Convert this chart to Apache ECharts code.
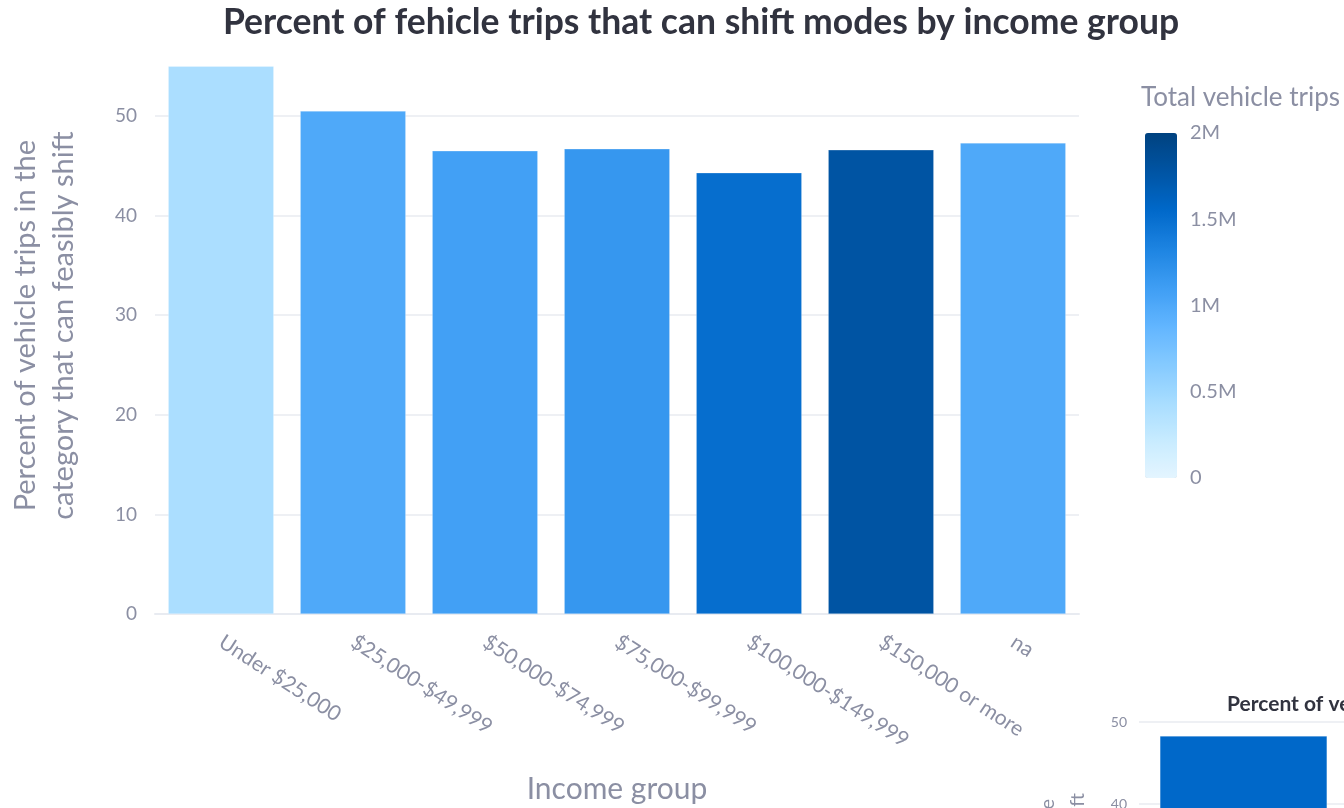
<!DOCTYPE html>
<html>
<head>
<meta charset="utf-8">
<script src="https://cdn.jsdelivr.net/npm/echarts@6/dist/echarts.min.js"></script>
<style>
  html, body { margin: 0; padding: 0; background: #ffffff; }
  #chart { width: 1344px; height: 808px; }
</style>
</head>
<body>
<div id="chart"></div>
<script>
// Income groups and the share of their vehicle trips that could shift modes
const categories = ['Under $25,000', '$25,000-$49,999', '$50,000-$74,999', '$75,000-$99,999', '$100,000-$149,999', '$150,000 or more', 'na'];
const pctShift = [55.0, 50.5, 46.5, 46.7, 44.3, 46.6, 47.3];
// Total vehicle trips per group (drives the bar colour)
const totalTrips = [410000, 1000000, 1080000, 1160000, 1510000, 1780000, 1000000];
// Sequential blue scale for the colour bar
const blueScale = ['#e4f5ff', '#c7ebff', '#a6dcff', '#83c9ff', '#60b4ff', '#3d9df3', '#1c83e1', '#0068c9', '#0054a3', '#004280'];
const colorbarTicks = [0, 500000, 1000000, 1500000, 2000000];

// Next chart on the page (only its top shows)
const nextCategories = ['Work'];
const nextPct = [48.3];

const muted = '#8b8fa3';
const dark = '#31333f';
const grid = '#e8ebf1';
const font = 'Lato, "Open Sans", sans-serif';

const chart = echarts.init(document.getElementById('chart'), null, { renderer: 'canvas' });

const fmtTrips = v => v === 0 ? '0' : (v / 1e6) + 'M';

chart.setOption({
  backgroundColor: '#ffffff',
  textStyle: { fontFamily: font },
  title: [
    {
      text: 'Percent of fehicle trips that can shift modes by income group',
      left: 696, top: 0, textAlign: 'center',
      textStyle: { fontSize: 35.5, fontWeight: 'bold', color: dark, fontFamily: font }
    },
    {
      text: 'Total vehicle trips',
      left: 1136, top: 80,
      textStyle: { fontSize: 26, fontWeight: 'normal', color: muted, fontFamily: font }
    },
    {
      text: 'Percent of vehicle trips that can shift modes by trip purpose',
      left: 1222, top: 689,
      textStyle: { fontSize: 21, fontWeight: 'bold', color: dark, fontFamily: font }
    }
  ],
  grid: [
    { left: 155, top: 37.3, width: 924, height: 576.7, outerBoundsMode: 'none', containLabel: false },
    { left: 1145, top: 133, width: 32, height: 345, outerBoundsMode: 'none', containLabel: false },
    { left: 1139, top: 722, width: 209, height: 410, outerBoundsMode: 'none', containLabel: false }
  ],
  visualMap: {
    type: 'continuous',
    seriesIndex: 0,
    dimension: 2,
    min: 0, max: 2000000,
    left: 1145, top: 133,
    itemWidth: 32, itemHeight: 345,
    padding: 0,
    calculable: false,
    showLabel: false,
    text: null,
    inRange: { color: blueScale }
  },
  xAxis: [
    {
      type: 'category', gridIndex: 0, data: categories,
      axisLine: { lineStyle: { color: grid, width: 2 } },
      axisTick: { show: false },
      axisLabel: { rotate: -33, margin: 26, fontSize: 21, color: muted, fontFamily: font },
      name: 'Income group', nameLocation: 'middle', nameGap: 160,
      nameTextStyle: { fontSize: 30, color: muted, fontFamily: font }
    },
    { type: 'category', gridIndex: 1, show: false, data: [''] },
    {
      type: 'category', gridIndex: 2, data: nextCategories,
      axisLine: { show: false }, axisTick: { show: false },
      axisLabel: { fontSize: 13, color: muted }
    }
  ],
  yAxis: [
    {
      type: 'value', gridIndex: 0, min: 0, max: 57.9, interval: 10,
      axisLine: { show: false }, axisTick: { show: false },
      axisLabel: { showMaxLabel: false, fontSize: 19, color: muted, margin: 18, fontFamily: font },
      splitLine: { showMaxLine: false, lineStyle: { color: grid, width: 1.5 } },
      name: 'Percent of vehicle trips in the\ncategory that can feasibly shift',
      nameLocation: 'middle', nameGap: 72,
      nameTextStyle: { fontSize: 29, lineHeight: 38, color: muted, fontFamily: font }
    },
    {
      type: 'value', gridIndex: 1, position: 'right', min: 0, max: 2000000, interval: 500000,
      axisLine: { show: false }, axisTick: { show: false }, splitLine: { show: false },
      axisLabel: { formatter: fmtTrips, fontSize: 20, color: muted, margin: 13, fontFamily: font }
    },
    {
      type: 'value', gridIndex: 2, min: 0, max: 50, interval: 10,
      axisLine: { show: false }, axisTick: { show: false },
      axisLabel: { fontSize: 14, color: muted, margin: 12, fontFamily: font },
      splitLine: { lineStyle: { color: grid, width: 1.5 } },
      name: 'Percent of vehicle trips in the\ncategory that can feasibly shift',
      nameLocation: 'middle', nameGap: 46,
      nameTextStyle: { fontSize: 20, lineHeight: 30, color: muted, fontFamily: font }
    }
  ],
  series: [
    {
      type: 'bar',
      xAxisIndex: 0, yAxisIndex: 0,
      data: categories.map((c, i) => [c, pctShift[i], totalTrips[i]]),
      encode: { x: 0, y: 1 },
      barCategoryGap: '20%',
      itemStyle: { borderColor: 'rgba(255,255,255,0.5)', borderWidth: 0.5 },
      animation: false
    },
    {
      type: 'bar',
      xAxisIndex: 2, yAxisIndex: 2,
      data: nextPct,
      barCategoryGap: '20%',
      itemStyle: { color: '#0068c9', borderColor: 'rgba(255,255,255,0.5)', borderWidth: 0.5 },
      animation: false
    }
  ]
});
</script>
</body>
</html>
